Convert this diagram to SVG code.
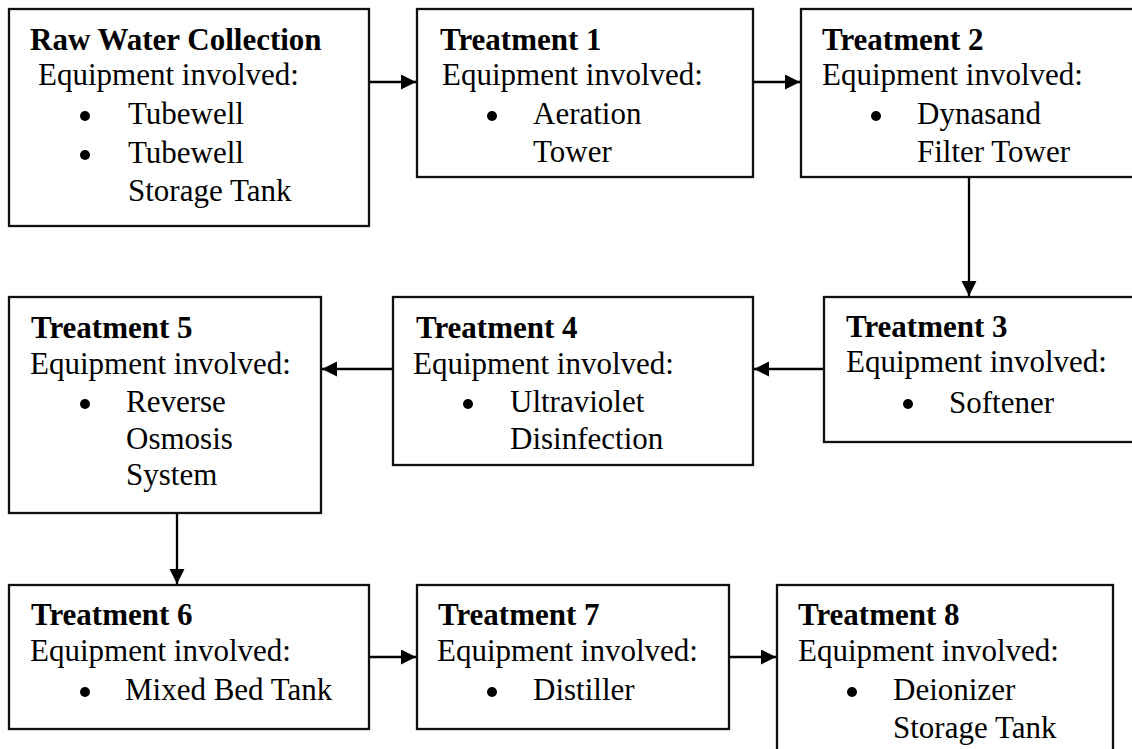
<svg xmlns="http://www.w3.org/2000/svg" width="1132" height="749" viewBox="0 0 1132 749">
  <style>
    .box { fill: #fff; stroke: #111; stroke-width: 2.3; }
    .t { font-family: "Liberation Serif", "Times New Roman", serif; font-size: 31px; fill: #000; }
    .b { font-weight: bold; }
    .dot { fill: #000; }
    .conn { stroke: #000; stroke-width: 2.3; fill: none; marker-end: url(#arrow); }
  </style>
  <defs>
    <marker id="arrow" markerUnits="userSpaceOnUse" markerWidth="16" markerHeight="16" refX="15" refY="7.5" orient="auto">
      <path d="M0,0 L15,7.5 L0,15 z" fill="#000"/>
    </marker>
  </defs>
  <rect width="1132" height="749" fill="#fff"/>

  <g id="connectors">
    <line class="conn" x1="369" y1="82" x2="416" y2="82"/>
    <line class="conn" x1="753" y1="82" x2="800" y2="82"/>
    <line class="conn" x1="969" y1="177" x2="969" y2="296"/>
    <line class="conn" x1="824" y1="369" x2="754" y2="369"/>
    <line class="conn" x1="393" y1="369" x2="322" y2="369"/>
    <line class="conn" x1="177" y1="513" x2="177" y2="584"/>
    <line class="conn" x1="369" y1="657" x2="416" y2="657"/>
    <line class="conn" x1="729" y1="657" x2="776" y2="657"/>
  </g>

  <g id="raw-water">
    <rect class="box" x="9" y="9" width="360" height="217"/>
    <text class="t b" x="30" y="50">Raw Water Collection</text>
    <text class="t" x="38" y="85">Equipment involved:</text>
    <circle class="dot" cx="85" cy="116" r="5"/>
    <text class="t" x="128" y="124">Tubewell</text>
    <circle class="dot" cx="85" cy="155" r="5"/>
    <text class="t" x="128" y="163">Tubewell</text>
    <text class="t" x="128" y="201">Storage Tank</text>
  </g>

  <g id="treatment-1">
    <rect class="box" x="417" y="9" width="336" height="168"/>
    <text class="t b" x="440" y="50">Treatment 1</text>
    <text class="t" x="442" y="85">Equipment involved:</text>
    <circle class="dot" cx="492" cy="116" r="5"/>
    <text class="t" x="533" y="124">Aeration</text>
    <text class="t" x="533" y="162">Tower</text>
  </g>

  <g id="treatment-2">
    <rect class="box" x="801" y="9" width="340" height="168"/>
    <text class="t b" x="822" y="50">Treatment 2</text>
    <text class="t" x="822" y="85">Equipment involved:</text>
    <circle class="dot" cx="876" cy="116" r="5"/>
    <text class="t" x="917" y="124">Dynasand</text>
    <text class="t" x="917" y="162">Filter Tower</text>
  </g>

  <g id="treatment-3">
    <rect class="box" x="824" y="297" width="320" height="145"/>
    <text class="t b" x="846" y="337">Treatment 3</text>
    <text class="t" x="846" y="372">Equipment involved:</text>
    <circle class="dot" cx="908" cy="404" r="5"/>
    <text class="t" x="949" y="413">Softener</text>
  </g>

  <g id="treatment-4">
    <rect class="box" x="393" y="297" width="360" height="168"/>
    <text class="t b" x="416" y="338">Treatment 4</text>
    <text class="t" x="413" y="374">Equipment involved:</text>
    <circle class="dot" cx="468" cy="404" r="5"/>
    <text class="t" x="510" y="412">Ultraviolet</text>
    <text class="t" x="510" y="449">Disinfection</text>
  </g>

  <g id="treatment-5">
    <rect class="box" x="9" y="297" width="312" height="216"/>
    <text class="t b" x="31" y="338">Treatment 5</text>
    <text class="t" x="30" y="374">Equipment involved:</text>
    <circle class="dot" cx="85" cy="404" r="5"/>
    <text class="t" x="126" y="412">Reverse</text>
    <text class="t" x="126" y="449">Osmosis</text>
    <text class="t" x="126" y="485">System</text>
  </g>

  <g id="treatment-6">
    <rect class="box" x="9" y="585" width="360" height="144"/>
    <text class="t b" x="31" y="625">Treatment 6</text>
    <text class="t" x="30" y="661">Equipment involved:</text>
    <circle class="dot" cx="85" cy="692" r="5"/>
    <text class="t" x="125" y="700">Mixed Bed Tank</text>
  </g>

  <g id="treatment-7">
    <rect class="box" x="417" y="585" width="312" height="144"/>
    <text class="t b" x="438" y="625">Treatment 7</text>
    <text class="t" x="437" y="661">Equipment involved:</text>
    <circle class="dot" cx="492" cy="692" r="5"/>
    <text class="t" x="533" y="700">Distiller</text>
  </g>

  <g id="treatment-8">
    <rect class="box" x="777" y="585" width="336" height="180"/>
    <text class="t b" x="798" y="625">Treatment 8</text>
    <text class="t" x="798" y="661">Equipment involved:</text>
    <circle class="dot" cx="852" cy="692" r="5"/>
    <text class="t" x="893" y="700">Deionizer</text>
    <text class="t" x="893" y="738">Storage Tank</text>
  </g>
</svg>
